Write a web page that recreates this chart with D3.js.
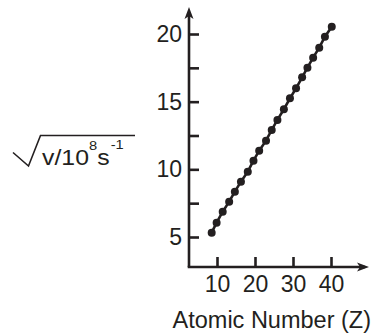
<!DOCTYPE html>
<html>
<head>
<meta charset="utf-8">
<script src="https://cdn.jsdelivr.net/npm/d3@7"></script>
<style>
  body { margin: 0; background: #fff; }
  text { font-family: "Liberation Sans", Arial, sans-serif; fill: #231f20; }
</style>
</head>
<body>
<script>
// readings: Z vs sqrt(frequency / 10^8 s^-1)
var atomicNumber = [8.6, 9.9, 11.5, 13.2, 14.7, 16.3, 18.1, 19.6, 21.1, 22.9, 24.4,
                    25.9, 27.6, 29.2, 30.8, 32.4, 33.8, 35.3, 36.9, 38.4, 40.2];
var sqrtFreq = [5.32, 6.06, 6.87, 7.61, 8.35, 9.09, 9.83, 10.64, 11.38, 12.12, 12.91,
                13.65, 14.44, 15.25, 15.99, 16.80, 17.51, 18.25, 18.99, 19.80, 20.54];
var xTicks = [10, 20, 30, 40];
var yTicks = [5, 7.5, 10, 12.5, 15, 17.5, 20];
var yLabels = [5, 10, 15, 20];

var WIDTH = 374;
var HEIGHT = 334;
var INK = '#231f20';
var ORIGIN_X = 189;
var ORIGIN_Y = 267;

var svg = d3.select('body').append('svg')
    .attr('width', WIDTH)
    .attr('height', HEIGHT);

var x = d3.scaleLinear().domain([10, 40]).range([217, 331]);
var y = d3.scaleLinear().domain([5, 20]).range([237, 34]);

// axes lines with arrow heads
svg.append('line')
    .attr('x1', ORIGIN_X).attr('y1', ORIGIN_Y)
    .attr('x2', ORIGIN_X).attr('y2', 12)
    .attr('stroke', INK).attr('stroke-width', 2.6);
svg.append('line')
    .attr('x1', ORIGIN_X - 1.3).attr('y1', ORIGIN_Y)
    .attr('x2', 365).attr('y2', ORIGIN_Y)
    .attr('stroke', INK).attr('stroke-width', 2.6);
svg.append('path')
    .attr('d', 'M' + ORIGIN_X + ',7 L' + (ORIGIN_X + 4.5) + ',19 L' + ORIGIN_X + ',16 L' + (ORIGIN_X - 4.5) + ',19 Z')
    .attr('fill', INK);
svg.append('path')
    .attr('d', 'M369,' + ORIGIN_Y + ' L357,' + (ORIGIN_Y - 4.5) + ' L360,' + ORIGIN_Y + ' L357,' + (ORIGIN_Y + 4.5) + ' Z')
    .attr('fill', INK);

var yAxis = svg.append('g')
    .attr('transform', 'translate(' + ORIGIN_X + ',0)')
    .call(d3.axisLeft(y)
        .tickValues(yTicks)
        .tickSizeInner(-10)
        .tickSizeOuter(0)
        .tickPadding(7)
        .tickFormat(function(d){ return yLabels.indexOf(d) >= 0 ? d : ''; }));

var xAxis = svg.append('g')
    .attr('transform', 'translate(0,' + ORIGIN_Y + ')')
    .call(d3.axisBottom(x)
        .tickValues(xTicks)
        .tickSizeInner(-10)
        .tickSizeOuter(0)
        .tickPadding(9));

[yAxis, xAxis].forEach(function(ax){
    ax.select('.domain').remove();
    ax.selectAll('.tick line').attr('stroke', INK).attr('stroke-width', 2.6);
    ax.selectAll('.tick text')
        .attr('font-size', 23)
        .attr('font-family', '"Liberation Sans", Arial, sans-serif')
        .attr('fill', INK);
});

// data line and dots
var pts = atomicNumber.map(function(z, i){ return [z, sqrtFreq[i]]; });

svg.append('path')
    .datum(pts)
    .attr('d', d3.line()
        .x(function(d){ return x(d[0]); })
        .y(function(d){ return y(d[1]); }))
    .attr('fill', 'none')
    .attr('stroke', INK)
    .attr('stroke-width', 2.6);

svg.selectAll('.dot').data(pts).enter()
    .append('circle')
    .attr('class', 'dot')
    .attr('cx', function(d){ return x(d[0]); })
    .attr('cy', function(d){ return y(d[1]); })
    .attr('r', 4)
    .attr('fill', INK);

// x label
svg.append('text')
    .attr('x', 371)
    .attr('y', 328)
    .attr('text-anchor', 'end')
    .attr('font-size', 23.5)
    .text('Atomic Number (Z)');

// y label: root sign over v/10^8 s^-1
svg.append('path')
    .attr('d', 'M13,152.5 L28.5,166 L40.5,135.5 L135,135.5')
    .attr('fill', 'none')
    .attr('stroke', INK)
    .attr('stroke-width', 1.6);

var yl = svg.append('text')
    .attr('transform', 'translate(42,165) scale(1.13,1)')
    .attr('font-size', 22);
yl.append('tspan').text('v/10');
yl.append('tspan').attr('font-size', 13).attr('dy', -15).text('8');
yl.append('tspan').attr('dy', 15).text('s');
yl.append('tspan').attr('font-size', 13).attr('dx', 1).attr('dy', -16).text('-1');
</script>
</body>
</html>
